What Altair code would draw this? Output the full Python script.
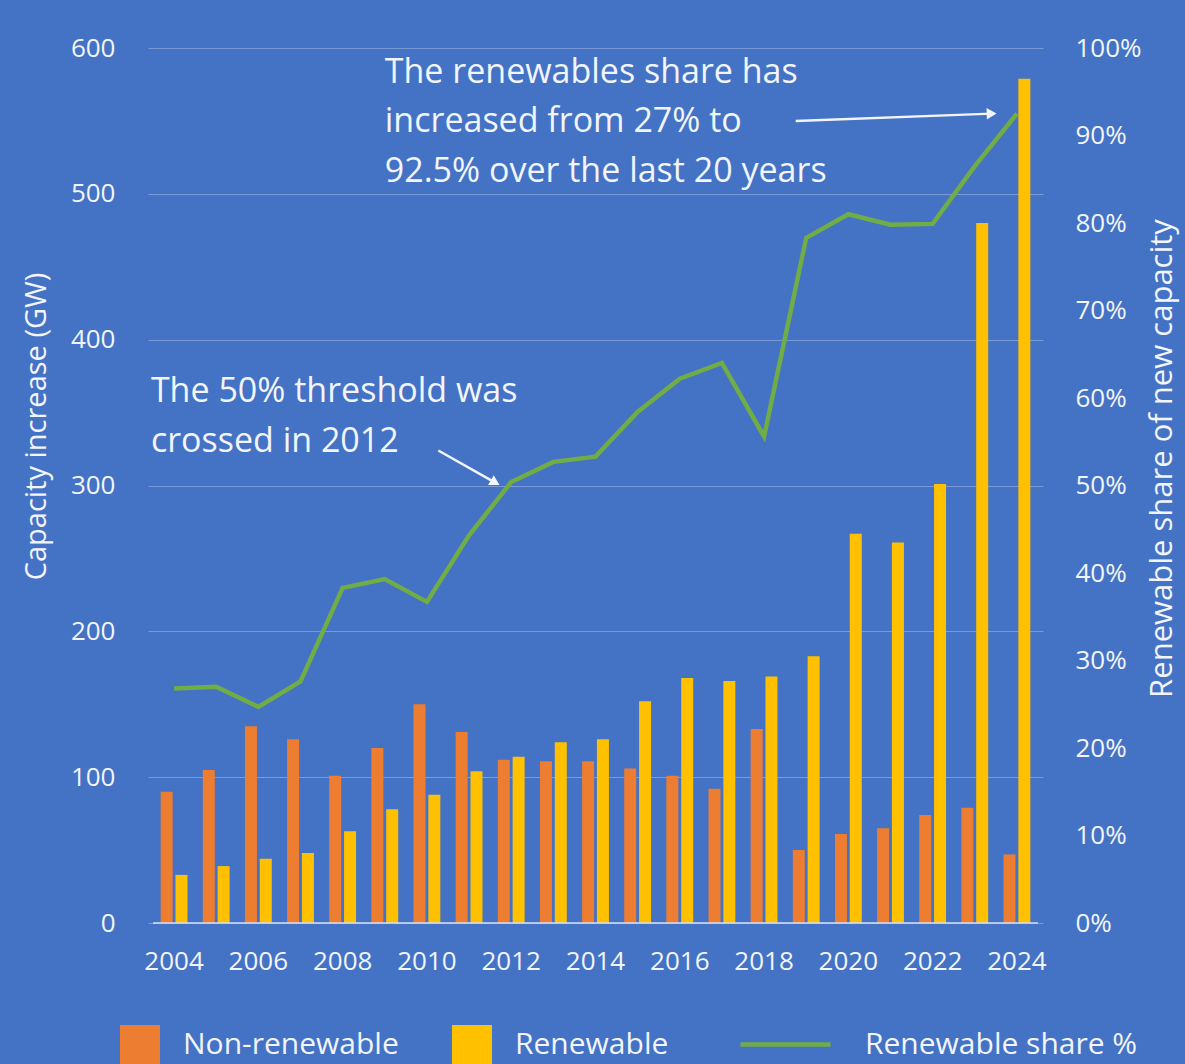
import altair as alt
import pandas as pd

# ---------------- data ----------------
years = [2004, 2005, 2006, 2007, 2008, 2009, 2010, 2011, 2012, 2013, 2014,
         2015, 2016, 2017, 2018, 2019, 2020, 2021, 2022, 2023, 2024]
non_renewable = [90, 105, 135, 126, 101, 120, 150, 131, 112, 111, 111,
                 106, 101, 92, 133, 50, 61, 65, 74, 79, 47]
renewable = [33, 39, 44, 48, 63, 78, 88, 104, 114, 124, 126,
             152, 168, 166, 169, 183, 267, 261, 301, 480, 579]
share_pct = [26.8, 27.0, 24.7, 27.6, 38.3, 39.3, 36.7, 44.3, 50.4, 52.7, 53.3,
             58.4, 62.2, 64.0, 55.6, 78.3, 81.0, 79.8, 79.9, 86.5, 92.5]
series_names = ["Non-renewable", "Renewable"]
line_name = "Renewable share %"
year_ticks = [2004, 2006, 2008, 2010, 2012, 2014, 2016, 2018, 2020, 2022, 2024]
gw_ticks = [0, 100, 200, 300, 400, 500, 600]
pct_ticks = [0, 10, 20, 30, 40, 50, 60, 70, 80, 90, 100]
x_domain = [2003.5, 2024.5]

notes_text = [
    "The renewables share has\nincreased from 27% to\n92.5% over the last 20 years",
    "The 50% threshold was\ncrossed in 2012",
]
notes_year = [2009.0, 2003.45]
notes_gw = [594.6, 375.5]

arrow_x1 = [2018.75, 2010.27]
arrow_x2 = [2023.40, 2011.62]
arrow_y1 = [550, 324]
arrow_y2 = [555, 302]

# ---------------- tables ----------------
bar_rows = []
for y, nr, r in zip(years, non_renewable, renewable):
    bar_rows.append({"year": y, "series": series_names[0], "value": nr})
    bar_rows.append({"year": y, "series": series_names[1], "value": r})
bar_df = pd.DataFrame(bar_rows)
line_df = pd.DataFrame({"year": years, "share": share_pct, "label": line_name})
note_df = pd.DataFrame({"x": notes_year, "y": notes_gw, "text": notes_text})
arrow_df = pd.DataFrame({"x1": arrow_x1, "x2": arrow_x2, "y1": arrow_y1, "y2": arrow_y2})
tick_df = pd.DataFrame({"year": year_ticks})
base_df = pd.DataFrame({"x1": [x_domain[0]], "x2": [x_domain[1]]})

# ---------------- styling ----------------
FONT = "Open Sans"
TXT = "#F2F5FB"
BG = "#4472C4"

xscale = alt.Scale(domain=x_domain, nice=False, zero=False)
gwscale = alt.Scale(domain=[0, 600], nice=False)
pctscale = alt.Scale(domain=[0, 100], nice=False)

bars = alt.Chart(bar_df).transform_calculate(
    xpos="datum.year + (datum.series == 'Non-renewable' ? -0.176 : 0.176)"
).mark_bar(size=12).encode(
    x=alt.X("xpos:Q", scale=xscale, axis=None),
    y=alt.Y("value:Q", scale=gwscale,
            axis=alt.Axis(values=gw_ticks, title="Capacity increase (GW)",
                          grid=True, gridColor="#9DB5E2", gridOpacity=0.6, gridWidth=1,
                          ticks=False, domain=False, labelPadding=33,
                          labelFontSize=26, labelColor=TXT, labelFont=FONT,
                          titleFontSize=29, titleFont=FONT, titleColor=TXT,
                          titleFontWeight="normal", titleAngle=270,
                          titleX=-112, titleY=378, titleAlign="center",
                          titleBaseline="middle")),
    color=alt.Color("series:N",
                    scale=alt.Scale(domain=series_names, range=["#ED7D31", "#FFC000"]),
                    legend=alt.Legend(orient="none", legendX=-28, legendY=977,
                                      direction="horizontal", title=None,
                                      symbolType="square", symbolSize=1600,
                                      symbolStrokeWidth=0, symbolOpacity=1,
                                      labelFontSize=30, labelFont=FONT, labelColor=TXT,
                                      labelOffset=23, columnPadding=53, padding=0,
                                      labelLimit=500)),
)

line = alt.Chart(line_df).mark_line(strokeWidth=4.5).encode(
    x=alt.X("year:Q", scale=xscale, axis=None),
    y=alt.Y("share:Q", scale=pctscale,
            axis=alt.Axis(orient="right", values=pct_ticks, labelExpr="datum.value + '%'",
                          title="Renewable share of new capacity", grid=False,
                          ticks=False, domain=False, labelPadding=32,
                          labelFontSize=26, labelColor=TXT, labelFont=FONT,
                          titleFontSize=31, titleFont=FONT, titleColor=TXT,
                          titleFontWeight="normal", titleAngle=270,
                          titleX=119, titleY=410, titleAlign="center",
                          titleBaseline="middle")),
    stroke=alt.Stroke("label:N",
                      scale=alt.Scale(domain=[line_name], range=["#70AD47"]),
                      legend=alt.Legend(orient="none", legendX=590, legendY=949,
                                        title=None, symbolType="stroke",
                                        symbolSize=8100, symbolStrokeWidth=4.5,
                                        labelFontSize=30, labelFont=FONT, labelColor=TXT,
                                        labelOffset=32, padding=0, labelLimit=500)),
)

# x axis: baseline and year labels drawn through the shared scales
baseline = alt.Chart(base_df).transform_calculate(base="0").mark_rule(
    color="#D6DFF2", strokeWidth=1.5
).encode(
    x=alt.X("x1:Q", scale=xscale, axis=None),
    x2="x2:Q",
    y=alt.Y("base:Q", scale=gwscale, axis=None),
)

xlabels = alt.Chart(tick_df).transform_calculate(base="0").mark_text(
    baseline="middle", align="center", dy=39, fontSize=26, color=TXT, font=FONT
).encode(
    x=alt.X("year:Q", scale=xscale, axis=None),
    y=alt.Y("base:Q", scale=gwscale, axis=None),
    text=alt.Text("year:Q", format="d"),
)

notes = alt.Chart(note_df).mark_text(
    align="left", baseline="top", fontSize=34, lineHeight=49.5, lineBreak="\n",
    color=TXT, font=FONT
).encode(
    x=alt.X("x:Q", scale=xscale, axis=None),
    y=alt.Y("y:Q", scale=gwscale, axis=None),
    text="text:N",
)

arrows = alt.Chart(arrow_df).mark_rule(strokeWidth=2.5, color=TXT).encode(
    x=alt.X("x1:Q", scale=xscale, axis=None),
    x2="x2:Q",
    y=alt.Y("y1:Q", scale=gwscale, axis=None),
    y2="y2:Q",
)

head1 = alt.Chart(arrow_df.iloc[[0]]).mark_point(
    shape="triangle-up", filled=True, size=130, color=TXT, opacity=1, angle=88
).encode(
    x=alt.X("x2:Q", scale=xscale, axis=None),
    y=alt.Y("y2:Q", scale=gwscale, axis=None),
)
head2 = alt.Chart(arrow_df.iloc[[1]]).mark_point(
    shape="triangle-up", filled=True, size=130, color=TXT, opacity=1, angle=120
).encode(
    x=alt.X("x2:Q", scale=xscale, axis=None),
    y=alt.Y("y2:Q", scale=gwscale, axis=None),
)

chart = alt.layer(line, bars, baseline, xlabels, notes, arrows, head1, head2).resolve_scale(
    y="independent"
).properties(
    width=895, height=875,
    autosize=alt.AutoSizeParams(type="none"),
    padding={"left": 148, "top": 48, "right": 142, "bottom": 141},
).configure(
    background=BG, font=FONT
).configure_view(stroke=None)

chart.save("out.html", embed_options={"renderer": "svg", "actions": False})
